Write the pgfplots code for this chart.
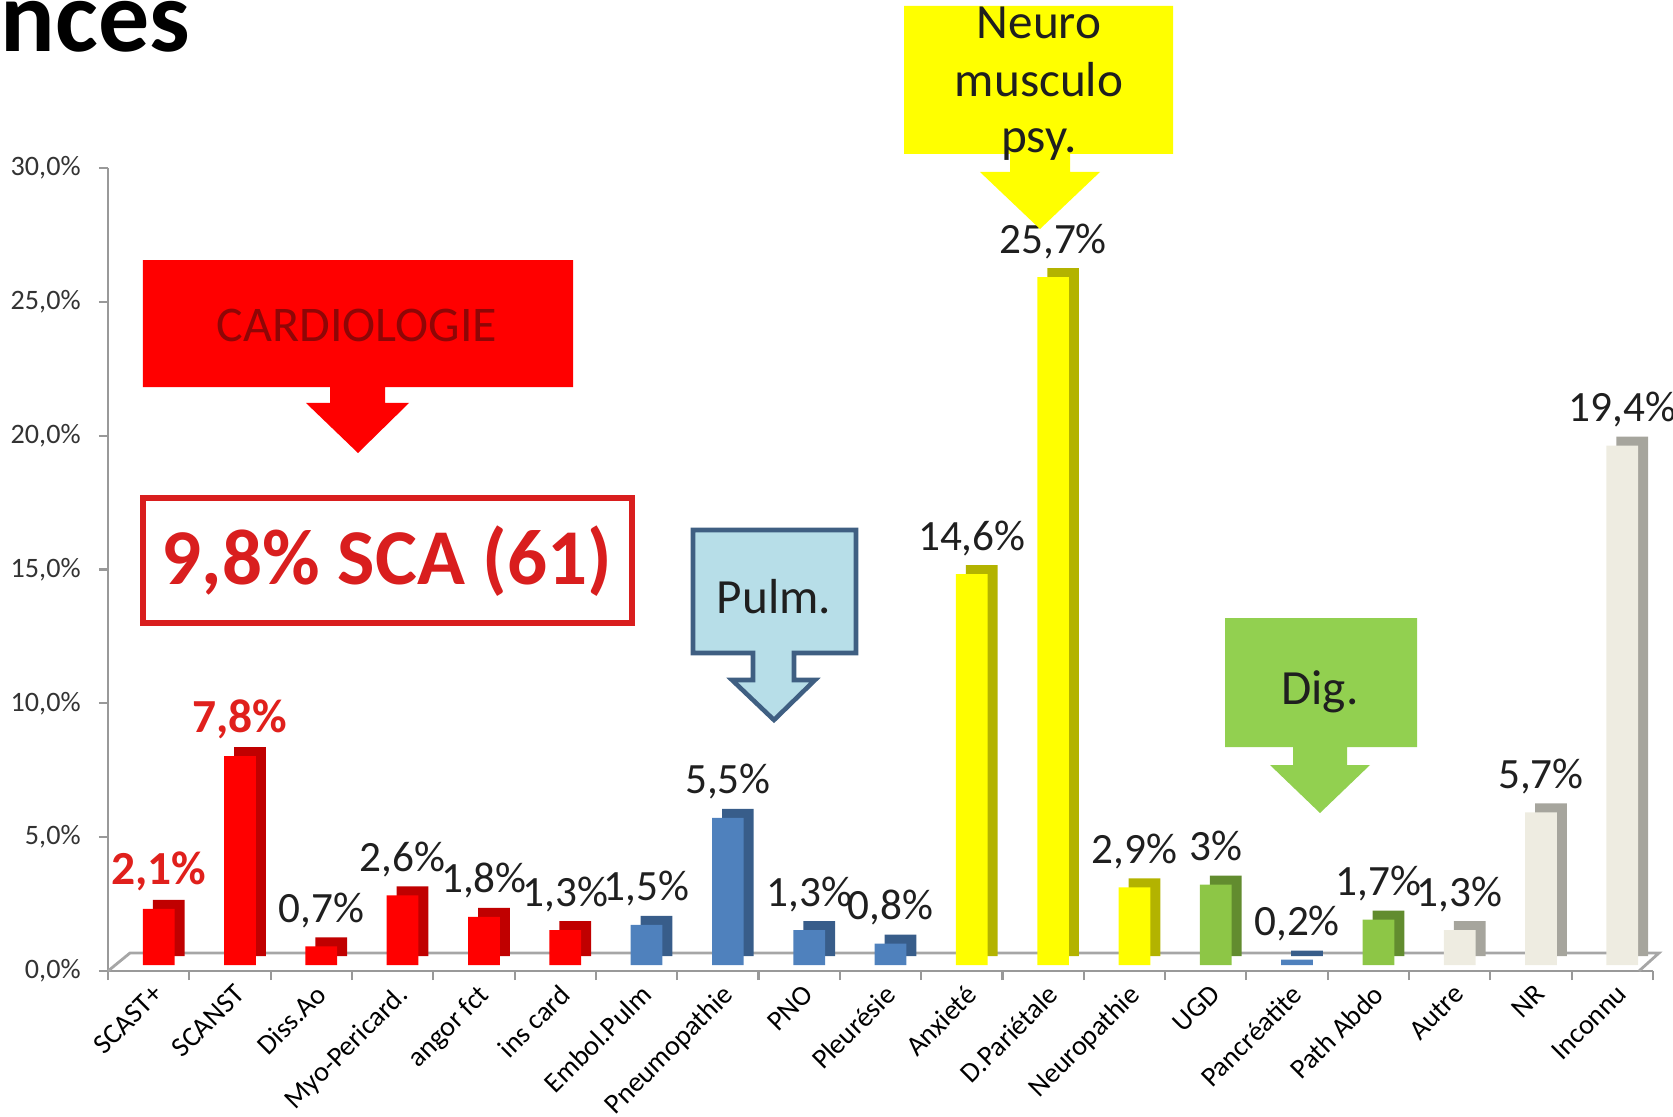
\documentclass[border=0pt]{standalone}
\usepackage{pgfplots}
\pgfplotsset{compat=1.18}
\usepackage{fontspec}
\setmainfont{Carlito}
\definecolor{redF}{HTML}{FF0000}
\definecolor{redS}{HTML}{C00000}
\definecolor{bluF}{HTML}{4F81BD}
\definecolor{bluS}{HTML}{385D8A}
\definecolor{yelF}{HTML}{FFFF00}
\definecolor{yelS}{HTML}{B3B300}
\definecolor{grnF}{HTML}{8DC646}
\definecolor{grnS}{HTML}{628C2F}
\definecolor{begF}{HTML}{EEECE1}
\definecolor{begS}{HTML}{A6A59D}
\definecolor{labred}{HTML}{E0201C}
\definecolor{cardtxt}{HTML}{8E0606}
\definecolor{scared}{HTML}{D91E1E}
\definecolor{pulmF}{HTML}{B7DEE8}
\definecolor{pulmB}{HTML}{3F5F82}
\definecolor{digF}{HTML}{92D050}
\begin{document}
\begin{tikzpicture}
\path[use as bounding box] (0,0) rectangle (16.73,11.16);
\node[anchor=base west, inner sep=0pt, font=\fontsize{29}{31}\selectfont\bfseries] at (0,10.64) {nces};
\begin{axis}[
  at={(1.08cm,1.45cm)}, anchor=south west,
  scale only axis, width=15.45cm, height=8.03cm,
  xmin=-0.5, xmax=18.5, ymin=0, ymax=30,
  axis lines*=left,
  axis line style={draw=black!40, line width=0.8pt, -},
  clip=false,
  xtick={0,...,18},
  xticklabels={SCAST+,SCANST,Diss.Ao,Myo-Pericard.,angor fct,ins card,Embol.Pulm,Pneumopathie,PNO,Pleurésie,Anxieté,D.Pariétale,Neuropathie,UGD,Pancréatite,Path Abdo,Autre,NR,Inconnu},
  major x tick style={draw=none},
  minor xtick={-0.5,0.5,...,18.5},
  minor tick length=0.09cm,
  minor tick style={draw=black!40, line width=0.6pt},
  x tick label style={rotate=45, anchor=north east, font=\fontsize{8}{9}\selectfont, inner sep=1pt, xshift=0.04cm, yshift=0cm},
  ytick={0,5,...,30},
  yticklabels={{0,0\%},{5,0\%},{10,0\%},{15,0\%},{20,0\%},{25,0\%},{30,0\%}},
  y tick label style={font=\fontsize{8}{9}\selectfont, text=black!80, xshift=-0.06cm},
  tick align=outside, major tick length=0.09cm,
  major y tick style={draw=black!40, line width=0.6pt},
  ybar, bar width=0.39,
  every node near coord/.append style={font=\fontsize{12.3}{13}\selectfont, text=black!88, anchor=base, yshift=0.24cm, inner sep=0pt},
  frontbar/.style={fill=#1, draw=none, bar shift=0.123, yshift=0.06cm, nodes near coords, point meta=explicit symbolic},
  backbar/.style={fill=#1, draw=none, bar shift=0.123, xshift=0.1cm, yshift=0.15cm},
]
% floor of the 3D chart
\draw[black!35, line width=0.8pt] (axis cs:-0.5,0) -- ([shift={(0.22cm,0.18cm)}]axis cs:-0.5,0) -- ([shift={(0.06cm,0.18cm)}]axis cs:18.5,0) -- ([shift={(-0.14cm,0cm)}]axis cs:18.5,0);
% red
\addplot[backbar=redS] coordinates {(0,2.1) (1,7.8) (2,0.7) (3,2.6) (4,1.8) (5,1.3)};
\addplot[frontbar=redF] coordinates {
 (0,2.1) [{\fontsize{13.5}{14}\selectfont\bfseries\color{labred}2,1\%}]
 (1,7.8) [{\fontsize{13.5}{14}\selectfont\bfseries\color{labred}7,8\%}]
 (2,0.7) [0,7\%]
 (3,2.6) [2,6\%]
 (4,1.8) [1,8\%]
 (5,1.3) [1,3\%]
};
% blue
\addplot[backbar=bluS] coordinates {(6,1.5) (7,5.5) (8,1.3) (9,0.8) (14,0.2)};
\addplot[frontbar=bluF] coordinates {
 (6,1.5) [1,5\%]
 (7,5.5) [5,5\%]
 (8,1.3) [1,3\%]
 (9,0.8) [0,8\%]
 (14,0.2) [0,2\%]
};
% yellow
\addplot[backbar=yelS] coordinates {(10,14.6) (11,25.7) (12,2.9)};
\addplot[frontbar=yelF] coordinates {
 (10,14.6) [14,6\%]
 (11,25.7) [25,7\%]
 (12,2.9) [2,9\%]
};
% green
\addplot[backbar=grnS] coordinates {(13,3.0) (15,1.7)};
\addplot[frontbar=grnF] coordinates {
 (13,3.0) [3\%]
 (15,1.7) [1,7\%]
};
% beige
\addplot[backbar=begS] coordinates {(16,1.3) (17,5.7) (18,19.4)};
\addplot[frontbar=begF] coordinates {
 (16,1.3) [1,3\%]
 (17,5.7) [5,7\%]
 (18,19.4) [19,4\%]
};
\end{axis}
% CARDIOLOGIE callout
\fill[redF] (1.43,8.56) -- (5.73,8.56) -- (5.73,7.29) -- (3.85,7.29) -- (3.85,7.13) -- (4.09,7.13) -- (3.58,6.63) -- (3.06,7.13) -- (3.30,7.13) -- (3.30,7.29) -- (1.43,7.29) -- cycle;
\node[font=\fontsize{14.2}{15}\selectfont, text=cardtxt] at (3.57,7.91) {CARDIOLOGIE};
% SCA box
\draw[scared, line width=1.5pt, fill=white] (1.43,4.93) rectangle (6.32,6.18);
\node[font=\fontsize{22.5}{24}\selectfont\bfseries, text=scared] at (3.87,5.55) {9,8\% SCA (61)};
% Pulm callout
\filldraw[fill=pulmF, draw=pulmB, line width=1.3pt, line join=miter] (6.93,5.86) -- (8.56,5.86) -- (8.56,4.63) -- (7.94,4.63) -- (7.94,4.36) -- (8.15,4.36) -- (7.74,3.96) -- (7.32,4.36) -- (7.53,4.36) -- (7.53,4.63) -- (6.93,4.63) -- cycle;
\node[font=\fontsize{14}{15}\selectfont, text=black!88] at (7.74,5.19) {Pulm.};
% Neuro callout
\fill[yelF] (9.04,11.10) -- (11.73,11.10) -- (11.73,9.62) -- (10.70,9.62) -- (10.70,9.44) -- (11.00,9.44) -- (10.40,8.87) -- (9.80,9.44) -- (10.10,9.44) -- (10.10,9.62) -- (9.04,9.62) -- cycle;
\node[anchor=base, font=\fontsize{14}{15}\selectfont, text=black!88] at (10.39,10.77) {Neuro};
\node[anchor=base, font=\fontsize{14}{15}\selectfont, text=black!88] at (10.39,10.20) {musculo};
\node[anchor=base, font=\fontsize{14}{15}\selectfont, text=black!88] at (10.39,9.64) {psy.};
% Dig callout
\fill[digF] (12.25,4.98) -- (14.17,4.98) -- (14.17,3.69) -- (13.47,3.69) -- (13.47,3.51) -- (13.70,3.51) -- (13.20,3.03) -- (12.70,3.51) -- (12.93,3.51) -- (12.93,3.69) -- (12.25,3.69) -- cycle;
\node[font=\fontsize{14}{15}\selectfont, text=black!88] at (13.20,4.24) {Dig.};
\end{tikzpicture}
\end{document}
